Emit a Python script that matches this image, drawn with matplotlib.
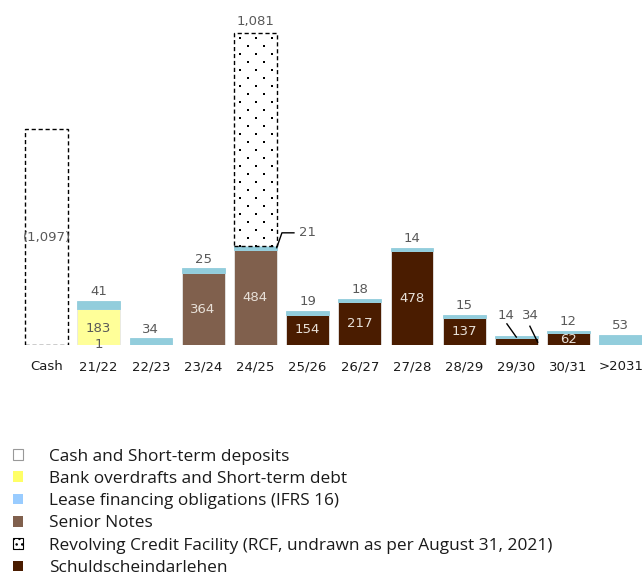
import matplotlib
matplotlib.use("Agg")
import matplotlib.pyplot as plt
from matplotlib.patches import Patch
from matplotlib.transforms import IdentityTransform
import numpy as np

# Maturity profile (EUR m)
periods = ["Cash", "21/22", "22/23", "23/24", "24/25", "25/26", "26/27",
           "27/28", "28/29", "29/30", "30/31", ">2031"]
cash = [1097, 0, 0, 0, 0, 0, 0, 0, 0, 0, 0, 0]
bank_small = [0, 1, 0, 0, 0, 0, 0, 0, 0, 0, 0, 0]
bank_debt = [0, 183, 0, 0, 0, 0, 0, 0, 0, 0, 0, 0]
senior_notes = [0, 0, 0, 364, 484, 0, 0, 0, 0, 0, 0, 0]
schuldschein = [0, 0, 0, 0, 0, 154, 217, 478, 137, 34, 62, 0]
lease = [0, 41, 34, 25, 21, 19, 18, 14, 15, 14, 12, 53]
rcf = [0, 0, 0, 0, 1081, 0, 0, 0, 0, 0, 0, 0]

C_YELLOW = "#FFFF99"
C_LEASE = "#92CDDC"
C_SENIOR = "#80604D"
C_SCHULD = "#4A1C00"
C_LABEL = "#595959"

fig = plt.figure(figsize=(6.42, 5.84), dpi=100)
ax = fig.add_axes([0, 0.409, 1, 0.5736])
ax.set_xlim(-0.891, 11.408)
ax.set_ylim(0, 1700)

x = np.arange(len(periods))
w = 0.82
edge = dict(edgecolor="#e6e6e6", linewidth=0.6)

cash_a = np.array(cash)
bs = np.array(bank_small)
bd = np.array(bank_debt)
sn = np.array(senior_notes)
sd = np.array(schuldschein)
ls = np.array(lease)
rc = np.array(rcf)

# Cash bar: dashed outline, no fill
ax.bar(x[0], cash_a[0], w, facecolor="white", edgecolor="black",
       linewidth=1.0, linestyle=(0, (3, 2)))

bottom = np.zeros(len(x))
ax.bar(x, bs, w, bottom=bottom, color=C_YELLOW, **edge)
bottom += bs
ax.bar(x, bd, w, bottom=bottom, color=C_YELLOW, **edge)
bottom += bd
ax.bar(x, sn, w, bottom=bottom, color=C_SENIOR, **edge)
bottom += sn
ax.bar(x, sd, w, bottom=bottom, color=C_SCHULD, **edge)
bottom += sd
ax.bar(x, ls, w, bottom=bottom, color=C_LEASE, edgecolor=C_LEASE, linewidth=0.6)
bottom += ls

# Revolving credit facility (undrawn): dashed outline filled with a dot grid
i = 4
rcf_bar = ax.bar(x[i], rc[i], w, bottom=bottom[i], facecolor="white",
                 edgecolor="black", linewidth=1.0, linestyle=(0, (3, 2)), zorder=3)[0]
fig.canvas.draw()
bb = rcf_bar.get_window_extent()
dots = []
row_step, col_step = 8.0, 16.0
for r, yy in enumerate(np.arange(bb.y1 - 5, bb.y0, -row_step)):
    off = 4.0 if r % 2 == 0 else 4.0 + col_step / 2
    for xx in np.arange(bb.x0 + off + 2, bb.x1 - 2, col_step):
        dots.append((xx, yy))
dots = np.array(dots)
ax.scatter(dots[:, 0], dots[:, 1], s=2.2, marker="s", color="black", linewidths=0,
           transform=IdentityTransform(), zorder=4, clip_on=False)

val_font = dict(family="DejaVu Sans", fontsize=9.5, color=C_LABEL)
in_font = dict(family="DejaVu Sans", fontsize=9.5, color="#e8e0d8")

# Cash label
ax.text(x[0], cash_a[0] / 2, f"({cash_a[0]:,})", ha="center", va="center", **val_font)

# Inside-bar labels
base = bs + bd
for j in range(len(x)):
    if bd[j]:
        ax.text(x[j], bs[j] + bd[j] * 0.45, f"{bd[j]}", ha="center", va="center", **val_font)
    if bs[j]:
        ax.text(x[j], bs[j], f"{bs[j]}", ha="center", va="center", **val_font)
    if sn[j]:
        ax.text(x[j], base[j] + sn[j] / 2, f"{sn[j]}", ha="center", va="center", **in_font)
    if sd[j] and periods[j] != "29/30":
        ax.text(x[j], base[j] + sn[j] + sd[j] / 2, f"{sd[j]}", ha="center", va="center", **in_font)

# Lease labels above bars
lease_top = bs + bd + sn + sd + ls
for j in range(len(x)):
    if ls[j] and periods[j] not in ("24/25", "29/30"):
        ax.annotate(f"{ls[j]}", (x[j], lease_top[j]), xytext=(0, 2),
                    textcoords="offset points", ha="center", va="bottom", **val_font)

# 24/25: lease label with leader line, RCF label on top
xr = x[i] + w / 2
ax.plot([xr, xr + 0.1, xr + 0.33], [lease_top[i] - ls[i] / 2, lease_top[i] + 65, lease_top[i] + 65],
        color="black", linewidth=1.0, zorder=5)
ax.text(xr + 0.43, lease_top[i] + 65, f"{ls[i]}", ha="left", va="center", **val_font)
ax.annotate(f"{rc[i]:,}", (x[i], lease_top[i] + rc[i]), xytext=(0, 3),
            textcoords="offset points", ha="center", va="bottom", **val_font)

# 29/30: labels with leader lines
k = 9
ax.plot([x[k] - 0.18, x[k]], [lease_top[k] + 60, lease_top[k] - ls[k] / 2],
        color="black", linewidth=1.0)
ax.text(x[k] - 0.2, lease_top[k] + 70, f"{ls[k]}", ha="center", va="bottom", **val_font)
ax.plot([x[k] + 0.26, x[k] + w / 2], [lease_top[k] + 48, 15],
        color="black", linewidth=1.0)
ax.text(x[k] + 0.27, lease_top[k] + 70, f"{sd[k]}", ha="center", va="bottom", **val_font)

ax.set_xticks(x)
ax.set_xticklabels(periods, family="DejaVu Sans", fontsize=9.5, color="#1a1a1a")
ax.tick_params(axis="x", length=0, pad=11)
ax.set_yticks([])
for s in ax.spines.values():
    s.set_visible(False)

handles = [
    Patch(facecolor="white", edgecolor="#999999", linewidth=0.8),
    Patch(facecolor="#FFFF66", edgecolor="none"),
    Patch(facecolor="#99CCFF", edgecolor="none"),
    Patch(facecolor=C_SENIOR, edgecolor="none"),
    Patch(facecolor="white", edgecolor="black", hatch="...", linewidth=0.8),
    Patch(facecolor=C_SCHULD, edgecolor="none"),
]
labels = [
    "Cash and Short-term deposits",
    "Bank overdrafts and Short-term debt",
    "Lease financing obligations (IFRS 16)",
    "Senior Notes",
    "Revolving Credit Facility (RCF, undrawn as per August 31, 2021)",
    "Schuldscheindarlehen",
]
fig.legend(handles, labels, loc="upper left", bbox_to_anchor=(0.021, 0.232),
           frameon=False, handlelength=0.58, handleheight=0.58, handletextpad=1.5,
           labelspacing=0.365, borderaxespad=0, borderpad=0,
           prop=dict(family="Open Sans", size=12.4), labelcolor="#1a1a1a")

fig.savefig("out.png", dpi=100)
